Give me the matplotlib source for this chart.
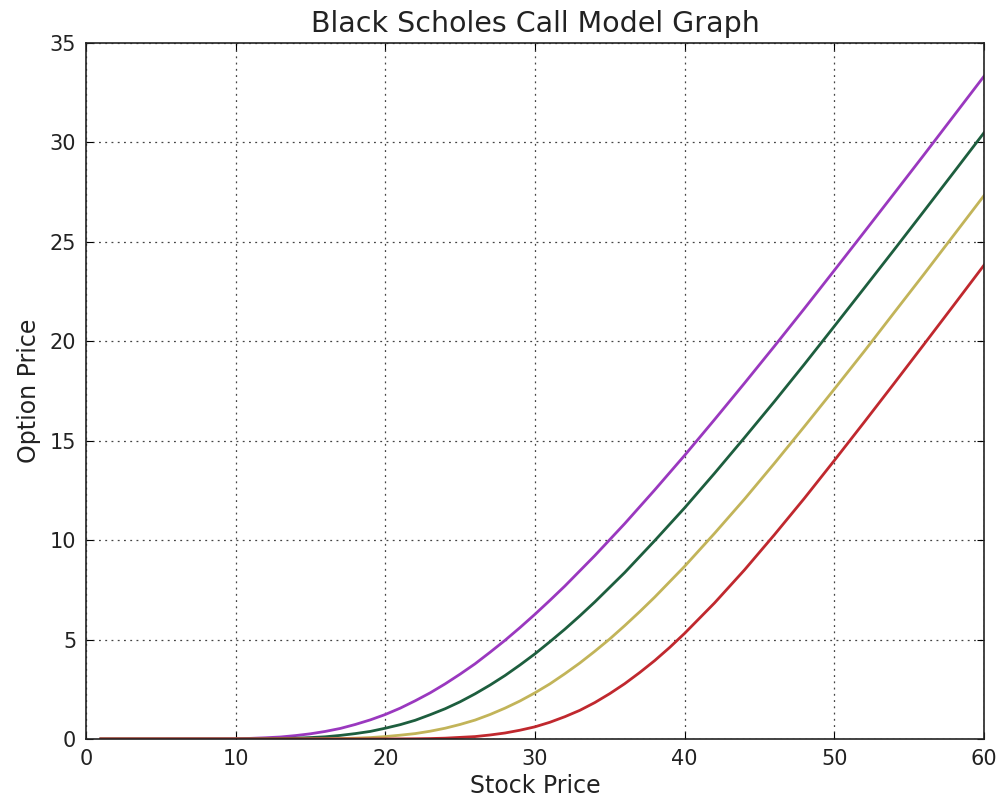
import matplotlib
matplotlib.use('Agg')
import matplotlib.pyplot as plt

# --- Data (stock price -> call price, one list per curve) ---
purple_x = [1, 10, 11, 12, 13, 14, 15, 16, 17, 18, 19, 20, 21, 22, 23, 24, 25, 26,
            27, 28, 29, 30, 31, 32, 34, 36, 38, 40, 42, 44, 46, 48, 50, 52, 54,
            56, 58, 60]
purple_y = [0, 0.01, 0.03, 0.06, 0.10, 0.17, 0.26, 0.38, 0.53, 0.73, 0.96, 1.23,
            1.55, 1.92, 2.32, 2.77, 3.26, 3.78, 4.36, 4.96, 5.60, 6.27, 6.97, 7.69,
            9.22, 10.83, 12.52, 14.26, 16.06, 17.89, 19.75, 21.64, 23.56, 25.49,
            27.43, 29.38, 31.35, 33.32]

green_x = [1, 10, 12, 13, 14, 15, 16, 17, 18, 19, 20, 21, 22, 23, 24, 25, 26, 27,
           28, 29, 30, 31, 32, 33, 34, 36, 38, 40, 42, 44, 46, 48, 50, 52, 54, 56,
           58, 60]
green_y = [0, 0, 0.01, 0.02, 0.04, 0.07, 0.11, 0.18, 0.27, 0.38, 0.54, 0.72, 0.94,
           1.22, 1.52, 1.87, 2.27, 2.71, 3.19, 3.72, 4.28, 4.89, 5.52, 6.19, 6.89,
           8.37, 9.97, 11.62, 13.36, 15.15, 16.97, 18.84, 20.75, 22.67, 24.60,
           26.55, 28.51, 30.48]

yellow_x = [1, 14, 16, 17, 18, 19, 20, 21, 22, 23, 24, 25, 26, 27, 28, 29, 30, 31,
            32, 33, 34, 35, 36, 37, 38, 40, 42, 44, 46, 48, 50, 52, 54, 56, 58, 60]
yellow_y = [0, 0, 0.01, 0.02, 0.04, 0.07, 0.12, 0.19, 0.27, 0.39, 0.54, 0.73, 0.95,
            1.23, 1.55, 1.91, 2.32, 2.77, 3.28, 3.82, 4.41, 5.03, 5.70, 6.40, 7.13,
            8.68, 10.34, 12.06, 13.86, 15.71, 17.59, 19.49, 21.44, 23.38, 25.35,
            27.32]

red_x = [1, 20, 22, 23, 24, 25, 26, 27, 28, 29, 30, 31, 32, 33, 34, 35, 36, 37, 38,
         39, 40, 42, 44, 46, 48, 50, 52, 54, 56, 58, 60]
red_y = [0, 0, 0.01, 0.02, 0.04, 0.08, 0.12, 0.20, 0.30, 0.44, 0.61, 0.84, 1.12,
         1.44, 1.83, 2.28, 2.78, 3.34, 3.94, 4.60, 5.31, 6.84, 8.50, 10.27, 12.10,
         14.00, 15.93, 17.88, 19.85, 21.83, 23.82]

x_ticks = [0, 10, 20, 30, 40, 50, 60]
y_ticks = [0, 5, 10, 15, 20, 25, 30, 35]

# --- Figure ---
fig = plt.figure(figsize=(10.03, 8.10), dpi=100)
ax = fig.add_axes([0.0857, 0.0877, 0.8953, 0.8593])

ax.plot(purple_x, purple_y, color='#9a38bf', linewidth=2)
ax.plot(green_x, green_y, color='#1d5e3e', linewidth=2)
ax.plot(yellow_x, yellow_y, color='#c2b459', linewidth=2)
ax.plot(red_x, red_y, color='#c0282e', linewidth=2)

ax.set_xlim(0, 60)
ax.set_ylim(0, 35)
ax.set_xticks(x_ticks)
ax.set_yticks(y_ticks)

# eski matplotlib gorunumu: iceri bakan tikler, noktali grid
ax.tick_params(direction='in', length=5, top=True, right=True, labelsize=15,
               pad=7, labelcolor='#222222')
ax.grid(True, color='#444444', linestyle=(0, (1.5, 3.5)), linewidth=0.9)
for spine in ax.spines.values():
    spine.set_linewidth(1.2)
    spine.set_color('#222222')

ax.set_title('Black Scholes Call Model Graph', fontsize=20.5, pad=8, color='#222222')
ax.set_xlabel('Stock Price', fontsize=17, labelpad=4, color='#222222')
ax.set_ylabel('Option Price', fontsize=17, labelpad=6, color='#222222')

plt.savefig('out.png', dpi=100)
